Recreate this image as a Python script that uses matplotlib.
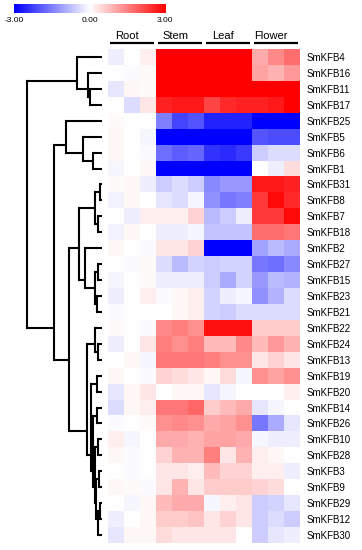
import matplotlib
matplotlib.use("Agg")
from matplotlib import pyplot as plt
from matplotlib.colors import LinearSegmentedColormap
import numpy as np

plt.rcParams['font.family'] = ['Liberation Sans', 'DejaVu Sans']

genes = ["SmKFB4", "SmKFB16", "SmKFB11", "SmKFB17", "SmKFB25", "SmKFB5", "SmKFB6",
         "SmKFB1", "SmKFB31", "SmKFB8", "SmKFB7", "SmKFB18", "SmKFB2", "SmKFB27",
         "SmKFB15", "SmKFB23", "SmKFB21", "SmKFB22", "SmKFB24", "SmKFB13", "SmKFB19",
         "SmKFB20", "SmKFB14", "SmKFB26", "SmKFB10", "SmKFB28", "SmKFB3", "SmKFB9",
         "SmKFB29", "SmKFB12", "SmKFB30"]
tissues = ["Root", "Stem", "Leaf", "Flower"]

# three replicates per tissue, log2 scaled values
root = [[-0.2, 0, 0.2], [0, -0.05, 0.05], [-0.3, 0.1, 0.05], [0, -0.4, 0.3],
        [0.05, 0, 0], [0.1, 0, -0.1], [0.1, 0, -0.05], [-0.1, 0, 0.1],
        [0.05, 0.1, -0.2], [-0.15, 0.1, 0], [0, -0.2, 0.2], [-0.15, 0.1, 0],
        [0.1, 0, -0.05], [0, -0.05, 0.05], [-0.1, 0, 0.05], [-0.2, 0, 0.2],
        [-0.05, 0, 0], [0.05, 0, -0.05], [-0.2, 0, 0.3], [0, 0.1, -0.1],
        [0.1, 0, -0.05], [-0.3, 0.1, 0.3], [-0.4, 0.1, 0.2], [-0.05, 0, 0.05],
        [0.2, -0.1, 0], [0.1, -0.05, 0], [0, -0.05, 0], [0.1, 0.05, -0.05],
        [0, -0.1, 0.1], [-0.2, 0, 0.1], [-0.3, 0.1, 0.1]]
stem = [[3, 3, 3], [3, 3, 3], [3, 3, 3], [2.6, 2.7, 2.7],
        [-1.5, -2.2, -2.0], [-3, -3, -3], [-1.7, -1.9, -1.8], [-3, -3, -3],
        [-0.6, -0.4, -0.6], [-0.3, -0.4, -0.1], [0.2, 0.2, 0.5], [-0.2, -0.2, -0.1],
        [0.3, 0.3, 0.5], [-0.4, -0.8, -0.5], [-0.2, -0.2, -0.2], [-0.05, 0.1, 0.2],
        [0, 0.1, 0.2], [1.4, 1.5, 1.3], [1.5, 1.3, 1.5], [1.6, 1.6, 1.6],
        [0.5, 0.4, 0.3], [0, 0.1, 0.1], [1.6, 1.6, 1.8], [1.3, 1.4, 1.3],
        [1.0, 1.0, 0.9], [0.5, 0.9, 0.9], [0.3, 0.3, 0.2], [0.3, 0.9, 0.3],
        [0.8, 1.0, 1.0], [0.6, 0.6, 0.7], [0.4, 0.3, 0.3]]
leaf = [[3, 3, 3], [3, 3, 3], [3, 3, 3], [2.2, 2.5, 2.6],
        [-2.6, -2.6, -2.6], [-3, -3, -3], [-2.4, -2.5, -2.3], [-3, -3, -3],
        [-1.4, -1.2, -1.2], [-1.3, -1.6, -1.5], [-0.8, -0.6, -0.2], [-0.7, -0.7, -0.7],
        [-3, -3, -3], [-0.6, -0.5, -0.5], [-0.6, -1.0, -0.5], [-0.5, -0.2, -0.1],
        [-0.5, -0.6, -0.4], [2.8, 2.8, 2.8], [0.8, 0.8, 1.4], [1.5, 1.3, 1.3],
        [0.1, 0.4, -0.1], [-0.3, -0.1, 0], [0.6, 0.8, 1.0], [1.0, 1.1, 1.3],
        [1.1, 1.1, 1.0], [1.5, 0.3, 0.9], [0.8, 0.5, 0.5], [0.6, 0.6, 0.6],
        [-0.1, 0.2, 0.3], [0.3, 0.5, 0.3], [0.3, 0.3, 0]]
flower = [[1.0, 1.4, 1.7], [1.1, 0.9, 1.2], [3, 3, 3], [2.6, 2.7, 3],
          [-3, -3, -3], [-2.0, -2.1, -2.1], [-0.6, -0.4, -0.4], [0, -0.2, 0.4],
          [2.7, 2.7, 2.6], [2.3, 2.9, 2.5], [2.3, 2.3, 2.9], [1.7, 1.7, 1.6],
          [-1.1, -0.8, -1.0], [-1.6, -1.7, -1.4], [-1.2, -0.8, -0.9], [-1.3, -0.9, -0.4],
          [-0.4, -0.4, -0.4], [0.6, 0.6, 0.6], [0.8, 1.2, 0.9], [0.3, 0.5, 0.3],
          [1.3, 1.1, 1.3], [0, 0, 0.2], [-0.3, -0.1, 0], [-1.6, -1.0, -0.3],
          [-0.1, -0.2, -0.2], [0.2, 0.1, 0], [0.2, 0.2, -0.2], [0.5, 0.4, 0],
          [-0.6, -0.5, -0.3], [-0.6, -0.4, -0.6], [-0.6, -0.3, -0.2]]

# gene tree: (child, child, ..., distance), leaves are row numbers
tree = ((0, (1, (2, 3, 12), 14), 25),
        ((4, (5, (6, 7, 9), 19), 36),
         ((((8, 9, 2), (10, 11, 4), 7), (12, (((13, 14, 4), (15, 16, 5), 7)), 17), 23),
          ((17, (18, 19, 4), 7),
           ((20, 21, 5),
            ((22, 23, 5),
             ((24, 25, 4),
              ((26, 27, 3), ((28, 29, 2), 30, 4), 6), 7), 9), 11), 15), 33), 48), 75)

W, H = 362, 550
n = len(genes)


def rect(x0, y0, x1, y1):
    return [x0 / W, 1 - y1 / H, (x1 - x0) / W, (y1 - y0) / H]


cmap = LinearSegmentedColormap.from_list("bwr2", ["#0000ff", "#ffffff", "#ff0000"])
data = np.hstack([np.array(root), np.array(stem), np.array(leaf), np.array(flower)])

fig = plt.figure(figsize=(W / 100, H / 100), dpi=100)

# heatmap
ax = fig.add_axes(rect(108, 49, 300, 543))
ax.imshow(data, cmap=cmap, vmin=-3, vmax=3, aspect="auto", interpolation="nearest")
ax.set_xticks([])
ax.yaxis.tick_right()
ax.set_yticks(range(n))
ax.set_yticklabels(genes, fontsize=7)
ax.tick_params(axis="y", length=0, pad=5)
for s in ax.spines.values():
    s.set_visible(False)

# tissue labels with underlines
for i, t in enumerate(tissues):
    c = 3 * i + 1
    ax.text(c - 0.3, -1.13, t, ha="center", va="baseline", fontsize=8, clip_on=False)
    ax.plot([c - 1.35, c + 1.35], [-0.85, -0.85], color="black", lw=1.6,
            clip_on=False, solid_capstyle="butt")
ax.set_xlim(-0.5, data.shape[1] - 0.5)
ax.set_ylim(n - 0.5, -0.5)

# dendrogram
dax = fig.add_axes(rect(0, 49, 108, 543))


def leaves(node):
    if isinstance(node, int):
        return [node]
    out = []
    for ch in node[:-1]:
        out += leaves(ch)
    return out


def draw(node):
    if isinstance(node, int):
        return node, 0
    kids = [draw(ch) for ch in node[:-1]]
    h = node[-1]
    for y, d in kids:
        dax.plot([d, h], [y, y], color="black", lw=1.5, solid_capstyle="butt")
    ys = [y for y, d in kids]
    dax.plot([h, h], [min(ys), max(ys)], color="black", lw=1.5, solid_capstyle="projecting")
    return np.mean(leaves(node)), h


draw(tree)
dax.set_xlim(102, -6)
dax.set_ylim(n - 0.5, -0.5)
dax.axis("off")

# color scale
cax = fig.add_axes(rect(14, 4, 166, 13))
cax.imshow(np.linspace(-3, 3, 256)[None, :], cmap=cmap, vmin=-3, vmax=3,
           aspect="auto", extent=[-3, 3, 0, 1])
cax.axis("off")
for v, xp in [(-3, 14), (0, 90), (3, 165)]:
    fig.text(xp / W, 1 - 20 / H, "%.2f" % v, ha="center", va="center", fontsize=6)

fig.savefig("out.png", dpi=100)
